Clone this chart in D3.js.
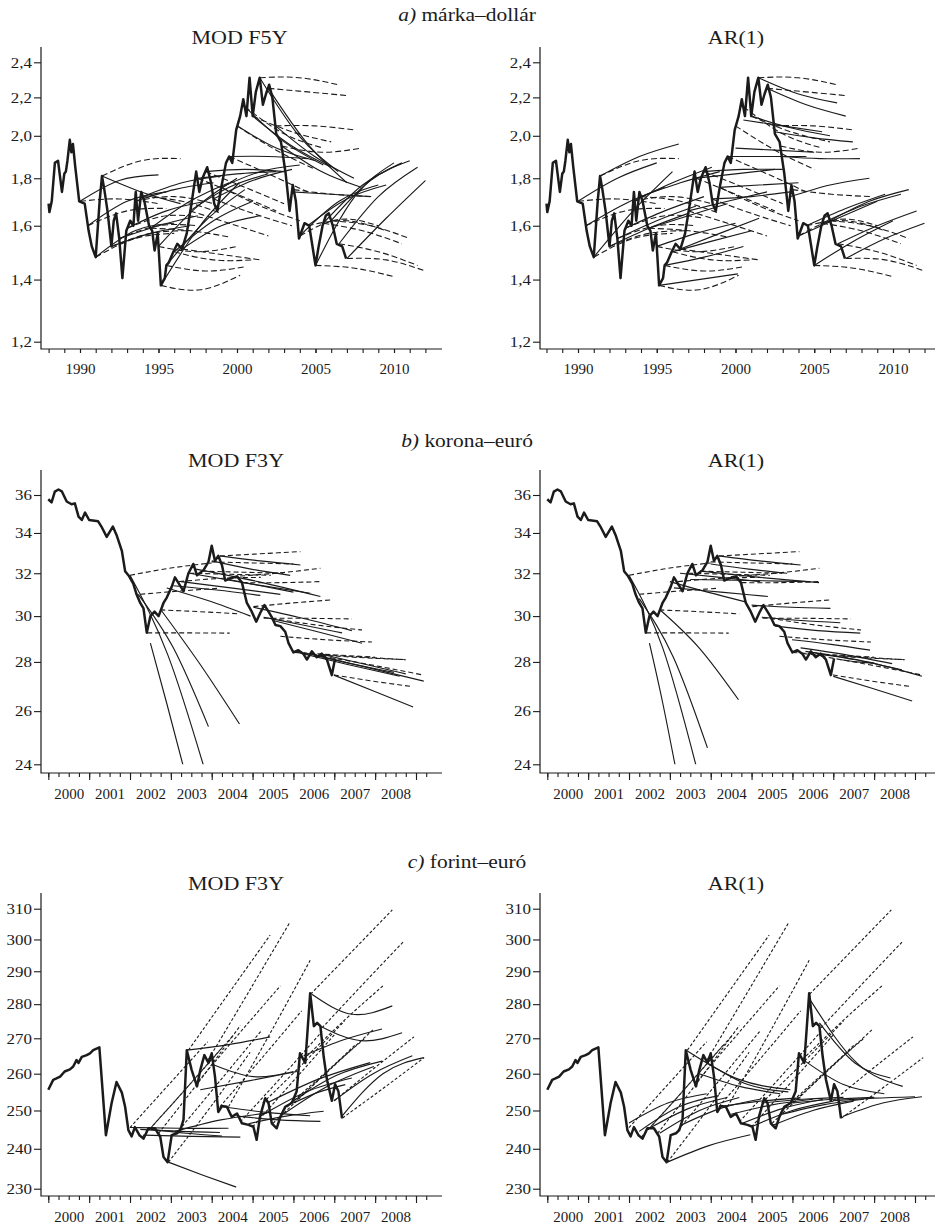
<!DOCTYPE html>
<html>
<head>
<meta charset="utf-8">
<script src="https://cdnjs.cloudflare.com/ajax/libs/d3/7.8.5/d3.min.js"></script>
<style>
  body { margin: 0; background: #fff; }
  svg { font-family: "Liberation Serif", "Times New Roman", serif; }
</style>
</head>
<body>
<svg id="chart" width="940" height="1226"></svg>
<script>
// Árfolyam-előrejelzések: tény (vastag), MOD / AR(1) (folytonos), határidős (szaggatott)
// forecast rows: [start year, end year, value at start, value at midpoint, value at end]

// ---- a) márka–dollár
const aYears = [1988.0, 1988.05, 1988.2, 1988.4, 1988.6, 1988.85, 1989.0, 1989.1, 1989.2, 1989.35, 1989.45, 1989.55, 1989.7, 1989.95,
  1990.3, 1990.55, 1990.75, 1991.0, 1991.25, 1991.4, 1991.55, 1991.75, 1992.0, 1992.15, 1992.3, 1992.5, 1992.7, 1992.95,
  1993.2, 1993.4, 1993.55, 1993.7, 1993.9, 1994.1, 1994.4, 1994.6, 1994.75, 1994.95, 1995.15, 1995.4, 1995.5, 1995.65, 1995.95,
  1996.2, 1996.5, 1996.8, 1997.1, 1997.4, 1997.6, 1997.8, 1998.1, 1998.35, 1998.55, 1998.75, 1999.0, 1999.3, 1999.5, 1999.7, 1999.95,
  2000.2, 2000.4, 2000.6, 2000.8, 2001.0, 2001.2, 2001.45, 2001.65, 2001.85, 2002.05, 2002.25, 2002.5, 2002.8, 2003.1, 2003.35,
  2003.55, 2003.75, 2003.95, 2004.3, 2004.6, 2005.0, 2005.2, 2005.45, 2005.65, 2005.85, 2006.1, 2006.35, 2006.7, 2006.95];
const aRate = [1.69, 1.655, 1.70, 1.87, 1.88, 1.74, 1.82, 1.83, 1.88, 1.98, 1.92, 1.96, 1.85, 1.70,
  1.69, 1.58, 1.52, 1.48, 1.70, 1.81, 1.75, 1.66, 1.52, 1.62, 1.65, 1.55, 1.405, 1.58,
  1.62, 1.60, 1.74, 1.62, 1.74, 1.70, 1.60, 1.58, 1.505, 1.57, 1.38, 1.405, 1.45, 1.46, 1.50,
  1.53, 1.51, 1.57, 1.69, 1.83, 1.74, 1.80, 1.85, 1.78, 1.69, 1.66, 1.76, 1.87, 1.90, 1.87, 2.03,
  2.10, 2.19, 2.10, 2.31, 2.10, 2.23, 2.31, 2.16, 2.22, 2.27, 2.20, 2.01, 1.97, 1.82, 1.66,
  1.77, 1.70, 1.55, 1.61, 1.60, 1.45, 1.52, 1.60, 1.64, 1.65, 1.60, 1.53, 1.52, 1.475];
const aForward = [
  [1990.0, 1995.0, 1.70, 1.71, 1.69], [1990.5, 1995.5, 1.60, 1.66, 1.67], [1991.0, 1996.0, 1.48, 1.55, 1.57],
  [1991.4, 1996.4, 1.81, 1.88, 1.89], [1992.0, 1997.0, 1.52, 1.57, 1.58], [1992.5, 1997.5, 1.55, 1.60, 1.60],
  [1993.0, 1998.0, 1.59, 1.64, 1.63], [1993.5, 1998.5, 1.70, 1.72, 1.69], [1994.0, 1999.0, 1.72, 1.70, 1.65],
  [1994.5, 1999.6, 1.59, 1.58, 1.555], [1995.0, 2000.0, 1.52, 1.50, 1.52], [1995.15, 2000.2, 1.38, 1.365, 1.415],
  [1995.5, 2000.5, 1.45, 1.43, 1.445], [1996.0, 2001.0, 1.50, 1.47, 1.47], [1996.5, 2001.5, 1.51, 1.49, 1.47],
  [1997.0, 2002.0, 1.66, 1.61, 1.56], [1997.5, 2002.5, 1.80, 1.73, 1.66], [1998.0, 2003.0, 1.83, 1.76, 1.69],
  [1998.5, 2003.5, 1.71, 1.65, 1.60], [1999.0, 2004.0, 1.76, 1.68, 1.62], [1999.5, 2004.5, 1.90, 1.82, 1.74],
  [2000.0, 2005.0, 2.05, 1.93, 1.84], [2000.5, 2005.5, 2.15, 2.01, 1.94], [2001.0, 2006.0, 2.10, 2.02, 1.97],
  [2001.45, 2006.45, 2.31, 2.31, 2.27], [2002.0, 2007.0, 2.25, 2.23, 2.21], [2002.45, 2007.4, 2.05, 2.05, 2.03],
  [2002.85, 2007.9, 1.95, 1.92, 1.94], [2003.6, 2008.6, 1.75, 1.73, 1.72], [2004.0, 2009.0, 1.56, 1.625, 1.60],
  [2004.5, 2009.5, 1.60, 1.62, 1.58], [2005.0, 2010.0, 1.45, 1.44, 1.41], [2005.5, 2010.5, 1.61, 1.58, 1.53],
  [2006.0, 2011.0, 1.62, 1.60, 1.55], [2006.5, 2011.5, 1.53, 1.50, 1.45], [2007.0, 2012.0, 1.475, 1.47, 1.43]];
const aModF5Y = [
  [1990.0, 1995.0, 1.70, 1.79, 1.815], [1990.5, 1995.5, 1.60, 1.70, 1.74], [1991.0, 1996.0, 1.48, 1.58, 1.61],
  [1991.4, 1996.4, 1.81, 1.74, 1.69], [1992.0, 1997.0, 1.52, 1.57, 1.60], [1992.5, 1997.5, 1.55, 1.60, 1.64],
  [1993.0, 1998.0, 1.59, 1.66, 1.70], [1993.5, 1998.5, 1.70, 1.75, 1.78], [1994.0, 1999.0, 1.72, 1.78, 1.81],
  [1994.5, 1999.5, 1.59, 1.70, 1.78], [1995.0, 2000.0, 1.52, 1.68, 1.80], [1995.15, 2000.15, 1.38, 1.60, 1.78],
  [1995.5, 2000.5, 1.45, 1.62, 1.75], [1996.0, 2001.0, 1.50, 1.62, 1.70], [1996.5, 2001.5, 1.51, 1.60, 1.64],
  [1997.0, 2002.0, 1.66, 1.76, 1.82], [1997.5, 2002.5, 1.80, 1.82, 1.83], [1998.0, 2003.0, 1.83, 1.84, 1.83],
  [1998.5, 2003.5, 1.71, 1.79, 1.84], [1999.0, 2004.0, 1.76, 1.83, 1.86], [1999.5, 2004.5, 1.90, 1.90, 1.89],
  [2000.0, 2005.0, 2.05, 1.94, 1.88], [2000.5, 2005.5, 2.15, 1.97, 1.86], [2001.0, 2006.0, 2.10, 1.95, 1.85],
  [2001.45, 2006.45, 2.31, 2.00, 1.83], [2002.0, 2007.0, 2.25, 1.96, 1.78], [2002.45, 2007.45, 2.05, 1.90, 1.80],
  [2002.85, 2007.9, 1.95, 1.83, 1.76], [2003.5, 2008.5, 1.74, 1.73, 1.72], [2004.0, 2009.0, 1.56, 1.70, 1.77],
  [2004.5, 2009.5, 1.60, 1.71, 1.77], [2005.0, 2010.0, 1.45, 1.72, 1.87], [2005.5, 2010.5, 1.61, 1.77, 1.87],
  [2006.0, 2011.0, 1.62, 1.79, 1.88], [2006.5, 2011.5, 1.53, 1.72, 1.85], [2007.0, 2012.0, 1.475, 1.63, 1.79]];
const aAR1 = [
  [1990.0, 1995.0, 1.70, 1.80, 1.87], [1990.5, 1995.5, 1.60, 1.69, 1.76], [1991.0, 1996.0, 1.48, 1.66, 1.83],
  [1991.4, 1996.4, 1.81, 1.90, 1.96], [1992.0, 1997.0, 1.52, 1.59, 1.65], [1992.5, 1997.5, 1.55, 1.62, 1.68],
  [1993.0, 1998.0, 1.59, 1.66, 1.72], [1993.5, 1998.5, 1.70, 1.78, 1.85], [1994.0, 1999.0, 1.72, 1.78, 1.83],
  [1994.5, 1999.5, 1.59, 1.64, 1.69], [1995.0, 2000.0, 1.52, 1.57, 1.61], [1995.15, 2000.15, 1.38, 1.40, 1.42],
  [1995.5, 2000.5, 1.45, 1.48, 1.52], [1996.0, 2001.0, 1.50, 1.54, 1.58], [1996.5, 2001.5, 1.51, 1.57, 1.63],
  [1997.0, 2002.0, 1.66, 1.70, 1.74], [1997.5, 2002.5, 1.80, 1.82, 1.84], [1998.0, 2003.0, 1.83, 1.84, 1.84],
  [1998.5, 2003.5, 1.71, 1.72, 1.74], [1999.0, 2004.0, 1.76, 1.77, 1.78], [1999.5, 2004.5, 1.90, 1.90, 1.90],
  [2000.0, 2005.0, 1.94, 1.93, 1.92], [2000.5, 2005.5, 2.08, 2.05, 2.02], [2001.0, 2006.0, 2.10, 2.04, 2.00],
  [2001.45, 2006.45, 2.31, 2.22, 2.17], [2002.0, 2007.0, 2.25, 2.16, 2.10], [2002.45, 2007.45, 2.02, 1.99, 1.97],
  [2002.85, 2007.9, 1.90, 1.89, 1.89], [2003.5, 2008.5, 1.72, 1.77, 1.80], [2004.0, 2009.0, 1.56, 1.63, 1.70],
  [2004.5, 2009.5, 1.60, 1.67, 1.73], [2005.0, 2010.0, 1.45, 1.54, 1.62], [2005.5, 2010.5, 1.61, 1.68, 1.73],
  [2006.0, 2011.0, 1.62, 1.70, 1.75], [2006.5, 2011.5, 1.53, 1.60, 1.66], [2007.0, 2012.0, 1.475, 1.55, 1.61]];
const aYTicks = [1.2, 1.4, 1.6, 1.8, 2.0, 2.2, 2.4];
const aXLabels = [1990, 1995, 2000, 2005, 2010];
const aXMinor = d3.range(1988, 2013);

// ---- b) korona–euró
const bYears = [2000.0, 2000.08, 2000.16, 2000.25, 2000.33, 2000.45, 2000.57, 2000.65, 2000.74, 2000.82, 2000.9, 2001.0,
  2001.22, 2001.3, 2001.43, 2001.58, 2001.67, 2001.8, 2001.88, 2001.98, 2002.08, 2002.16, 2002.25, 2002.33, 2002.41,
  2002.5, 2002.6, 2002.7, 2002.82, 2002.9, 2003.02, 2003.1, 2003.23, 2003.31, 2003.43, 2003.55, 2003.64, 2003.8, 2003.92,
  2004.0, 2004.08, 2004.16, 2004.25, 2004.33, 2004.45, 2004.62, 2004.74, 2004.86, 2004.98, 2005.09, 2005.19, 2005.29,
  2005.39, 2005.47, 2005.56, 2005.68, 2005.8, 2005.88, 2006.0, 2006.12, 2006.24, 2006.33, 2006.45, 2006.57, 2006.69,
  2006.82, 2006.94, 2007.02];
const bRate = [35.77, 35.6, 36.18, 36.3, 36.2, 35.65, 35.5, 35.55, 34.85, 34.67, 35.06, 34.67,
  34.6, 34.33, 33.8, 34.33, 33.9, 33.1, 32.1, 31.85, 31.5, 31.0, 30.6, 30.35, 29.26,
  30.0, 30.2, 30.0, 30.6, 30.85, 31.35, 31.8, 31.4, 31.15, 32.0, 32.45, 31.9, 32.15, 32.55,
  33.35, 32.6, 32.85, 32.4, 31.65, 31.75, 31.85, 31.55, 30.6, 30.2, 29.75, 30.15, 30.5,
  30.2, 29.95, 29.6, 29.55, 29.3, 28.8, 28.4, 28.5, 28.35, 28.1, 28.45, 28.2, 28.35,
  28.1, 27.45, 28.15];
const bForward = [
  [2002.0, 2004.0, 31.9, 32.25, 32.5], [2002.25, 2004.15, 31.0, 31.15, 31.28], [2002.42, 2004.44, 29.25, 29.25, 29.24],
  [2002.74, 2004.7, 30.28, 30.2, 30.1], [2003.2, 2005.2, 31.6, 31.75, 31.8], [2003.45, 2005.45, 32.0, 31.95, 31.9],
  [2003.75, 2005.75, 32.1, 32.05, 32.0], [2004.0, 2006.0, 32.55, 32.5, 32.45], [2004.2, 2006.17, 32.84, 32.95, 33.06],
  [2004.5, 2006.66, 31.84, 32.0, 32.24], [2004.75, 2006.7, 31.55, 31.55, 31.6], [2005.02, 2006.94, 30.43, 30.6, 30.74],
  [2005.27, 2007.43, 29.9, 29.9, 29.87], [2005.45, 2007.68, 29.9, 29.6, 29.38], [2005.68, 2007.92, 29.1, 28.95, 28.85],
  [2006.0, 2008.0, 28.4, 28.3, 28.2], [2006.25, 2008.7, 28.35, 28.2, 28.1], [2006.5, 2009.15, 28.3, 27.9, 27.46],
  [2006.75, 2008.75, 28.3, 28.2, 28.09], [2006.99, 2008.91, 27.46, 27.2, 26.98]];
const bModF3Y = [
  [2002.0, 2003.85, 31.9, 28.3, 23.7], [2002.2, 2003.92, 31.0, 28.6, 25.4], [2002.5, 2003.3, 28.8, 26.3, 23.95],
  [2002.75, 2004.68, 30.3, 27.9, 25.5], [2002.9, 2004.95, 31.3, 30.7, 30.0], [2003.06, 2005.19, 31.4, 31.2, 30.95],
  [2003.25, 2005.68, 31.6, 31.3, 31.0], [2003.45, 2006.41, 32.0, 31.5, 31.05], [2003.6, 2006.66, 32.2, 31.6, 30.9],
  [2004.0, 2005.92, 32.6, 32.2, 31.9], [2004.2, 2006.17, 32.85, 32.6, 32.4], [2004.4, 2006.0, 31.7, 31.4, 31.1],
  [2005.02, 2007.43, 30.4, 29.9, 29.35], [2005.27, 2007.19, 29.95, 29.6, 29.25], [2005.5, 2007.68, 29.8, 29.3, 28.8],
  [2006.0, 2008.6, 28.45, 27.9, 27.4], [2006.25, 2009.19, 28.4, 27.8, 27.2], [2006.5, 2008.46, 28.3, 27.9, 27.56],
  [2006.75, 2008.75, 28.3, 27.9, 27.5], [2006.99, 2008.93, 27.45, 26.8, 26.16]];
const bAR1 = [
  [2002.0, 2003.65, 31.9, 28.6, 23.9], [2002.25, 2003.92, 30.8, 28.2, 24.6], [2002.5, 2003.13, 28.8, 26.4, 23.95],
  [2002.75, 2004.68, 30.3, 28.6, 26.45], [2003.0, 2004.85, 31.6, 31.1, 30.65], [2003.1, 2005.4, 31.3, 31.1, 30.9],
  [2003.25, 2005.21, 32.0, 31.8, 31.6], [2003.5, 2006.44, 31.7, 31.65, 31.6], [2003.75, 2006.65, 32.1, 31.8, 31.55],
  [2004.0, 2005.87, 32.45, 32.2, 32.0], [2004.2, 2006.2, 32.85, 32.6, 32.4], [2005.0, 2006.93, 30.5, 30.4, 30.35],
  [2005.25, 2007.17, 29.95, 29.8, 29.7], [2005.58, 2007.66, 29.55, 29.35, 29.24], [2005.99, 2007.9, 28.95, 28.75, 28.5],
  [2006.2, 2008.44, 28.6, 28.3, 27.93], [2006.32, 2008.68, 28.45, 28.1, 27.67], [2006.52, 2009.17, 28.4, 28.0, 27.4],
  [2007.0, 2008.93, 27.4, 26.9, 26.4], [2007.15, 2008.0, 28.1, 28.0, 27.95]];
const bYTicks = [24, 26, 28, 30, 32, 34, 36];

// ---- c) forint–euró
const cYears = [2000.0, 2000.12, 2000.2, 2000.29, 2000.4, 2000.53, 2000.61, 2000.69, 2000.74, 2000.82, 2000.94, 2001.02,
  2001.1, 2001.25, 2001.41, 2001.55, 2001.67, 2001.8, 2001.88, 2001.96, 2002.04, 2002.12, 2002.23, 2002.33, 2002.45,
  2002.61, 2002.74, 2002.82, 2002.92, 2003.02, 2003.15, 2003.23, 2003.31, 2003.39, 2003.51, 2003.64, 2003.72, 2003.82,
  2003.92, 2004.0, 2004.08, 2004.16, 2004.25, 2004.37, 2004.49, 2004.62, 2004.74, 2004.9, 2005.02, 2005.1, 2005.18,
  2005.31, 2005.39, 2005.47, 2005.59, 2005.68, 2005.8, 2005.96, 2006.08, 2006.16, 2006.29, 2006.41, 2006.5, 2006.58,
  2006.66, 2006.74, 2006.82, 2006.94, 2007.02, 2007.1, 2007.19];
const cRate = [255.6, 258.3, 258.7, 259.2, 260.6, 261.2, 262.0, 263.8, 263.0, 264.7, 265.2, 265.7,
  266.6, 267.4, 243.5, 252.0, 257.7, 254.8, 251.0, 244.8, 243.2, 245.6, 243.5, 242.6, 245.3,
  245.3, 243.1, 237.9, 236.6, 243.5, 244.0, 244.8, 247.6, 266.6, 261.0, 256.5, 261.0, 265.2,
  263.0, 265.7, 259.2, 249.6, 251.2, 251.0, 248.3, 249.2, 246.6, 246.2, 245.7, 242.3, 248.3,
  253.3, 252.0, 246.6, 245.3, 248.3, 251.0, 252.0, 255.2, 265.7, 263.0, 283.3, 273.5, 274.5,
  273.5, 264.8, 258.4, 252.6, 257.1, 255.2, 247.9];
const cForward = [
  [2002.0, 2003.9, 245.5, 257, 269], [2002.3, 2004.3, 243, 255, 268], [2002.5, 2004.5, 245.3, 257.5, 270.5],
  [2002.7, 2004.7, 244, 258, 273.7], [2002.94, 2004.94, 236.6, 250.5, 266], [2003.2, 2005.2, 244.8, 258, 272],
  [2003.43, 2005.43, 266.6, 283.5, 301.4], [2003.68, 2005.68, 258, 271.5, 285.5], [2003.92, 2005.92, 264, 284, 305.7],
  [2004.2, 2006.2, 251, 264, 278], [2004.41, 2006.41, 251, 271, 293.4], [2004.7, 2006.7, 247, 259, 272],
  [2005.0, 2007.0, 245.7, 258, 271], [2005.25, 2007.25, 252, 263, 275], [2005.5, 2007.5, 246.6, 257, 268],
  [2005.75, 2007.75, 250, 260, 270], [2006.0, 2007.95, 252, 262, 272.5], [2006.25, 2008.2, 264, 275, 285.6],
  [2006.42, 2008.42, 283, 296, 309.6], [2006.7, 2008.7, 273, 286, 299.4], [2007.0, 2008.95, 252.6, 261.5, 270.4],
  [2007.2, 2009.2, 248, 256, 264.5]];
const cModF3Y = [
  [2002.0, 2004.41, 245.5, 245.3, 245.3], [2002.25, 2004.2, 245.0, 244.5, 244.2], [2002.33, 2004.7, 243.5, 243.2, 243.0],
  [2002.5, 2004.25, 245.0, 244.0, 243.3], [2002.94, 2004.6, 236.6, 233.4, 230.4], [2003.1, 2005.35, 244.5, 247.5, 249.3],
  [2003.39, 2005.43, 266.6, 268.2, 270.4], [2003.72, 2006.09, 255.6, 258, 260.6], [2004.04, 2006.0, 262.5, 259.2, 260.6],
  [2004.25, 2006.41, 251, 249.5, 248.6], [2004.62, 2006.66, 248.5, 247.5, 247.1], [2004.9, 2006.74, 246.5, 248.5, 249.8],
  [2005.19, 2007.43, 248.5, 255, 258.8], [2005.35, 2007.88, 252, 258.5, 263.1], [2005.68, 2007.97, 248.5, 256.5, 262],
  [2005.92, 2008.17, 252, 259.5, 263.5], [2006.0, 2007.27, 252, 255, 257], [2006.25, 2008.17, 265, 269.5, 272.7],
  [2006.45, 2008.42, 283, 277, 279.5], [2006.66, 2008.66, 273.5, 269.3, 271.6], [2006.99, 2008.91, 252.6, 260, 265],
  [2007.19, 2009.19, 248.5, 260, 264.5]];
const cAR1 = [
  [2002.0, 2003.9, 246.7, 252, 254.5], [2002.25, 2004.2, 244.5, 251, 254], [2002.5, 2004.4, 245.3, 250.5, 253.5],
  [2002.75, 2004.7, 244, 250, 253.5], [2002.94, 2004.97, 236.6, 240.8, 243.6], [2003.25, 2005.2, 246, 250.5, 253],
  [2003.4, 2005.95, 266.6, 258.5, 255.6], [2003.72, 2005.7, 260, 256.5, 254.5], [2003.92, 2005.9, 263, 257, 255],
  [2004.2, 2006.2, 251, 252.5, 253.4], [2004.5, 2006.5, 249, 251.5, 253], [2004.75, 2006.75, 246.5, 250.5, 253],
  [2005.0, 2007.0, 245.7, 250, 252.5], [2005.25, 2007.25, 252, 253, 253.5], [2005.5, 2007.5, 246, 250, 252.5],
  [2005.75, 2007.75, 249, 251.5, 253], [2006.0, 2008.0, 252, 253, 253.5], [2006.25, 2008.25, 264, 257, 254.5],
  [2006.45, 2008.7, 281, 263, 256.5], [2006.66, 2008.4, 274.5, 263, 258.8], [2007.0, 2009.0, 252.6, 253.3, 253.7],
  [2007.25, 2009.17, 248.5, 252, 253.7]];
const cYTicks = [230, 240, 250, 260, 270, 280, 290, 300, 310];

const bcXLabels = d3.range(2000, 2009);
const bcXMajor = d3.range(2000, 2010);
const bcXMinor = d3.range(2000, 2009.3, 0.25);

const ink = "#1b1b1b";
const serif = '"Liberation Serif", "Times New Roman", serif';
const stretch = "scale(1.13,1)";   // the printed figure is a little wider than tall
const svg = d3.select("#chart");
const defs = svg.append("defs");
let clipCount = 0;

function drawPanel(p) {
  const x = d3.scaleLinear().domain(p.xAnchor).range(p.xPix);
  const y = d3.scaleLog().domain(p.yAnchor).range(p.yPix);
  const g = svg.append("g");

  const clipId = "clip" + (clipCount++);
  defs.append("clipPath").attr("id", clipId).append("rect")
    .attr("x", p.left + 1).attr("y", p.top)
    .attr("width", p.right - p.left).attr("height", y(p.yTicks[0]) - p.top);

  // y axis
  const ya = g.append("g").attr("transform", `translate(${p.left},0)`)
    .call(d3.axisLeft(y).tickValues(p.yTicks).tickFormat(p.yFormat).tickSize(7).tickPadding(1).tickSizeOuter(0));
  ya.select(".domain").remove();
  ya.selectAll("text").attr("transform", stretch);

  // x axis ticks
  const xb = g.append("g").attr("transform", `translate(0,${p.bottom})`);
  xb.append("g").call(d3.axisBottom(x).tickValues(p.xMinor).tickSize(4).tickFormat("").tickSizeOuter(0));
  xb.append("g").call(d3.axisBottom(x).tickValues(p.xMajor).tickSize(p.majorLen).tickFormat("").tickSizeOuter(0));
  xb.append("g").call(d3.axisBottom(x).tickValues(p.xLabels.map(v => v + p.labelShift))
    .tickSize(0).tickPadding(p.labelPad).tickFormat(v => Math.floor(v)).tickSizeOuter(0));
  xb.selectAll(".domain").remove();

  g.selectAll("g").attr("font-family", null).attr("font-size", null);
  g.selectAll(".tick line").attr("stroke", ink).attr("stroke-width", 1.1);
  g.selectAll(".tick text").attr("fill", ink).attr("font-size", 15).attr("font-family", serif);

  // axis frame
  g.append("path")
    .attr("d", `M${p.left},${p.top}V${p.bottom}H${p.right}`)
    .attr("fill", "none").attr("stroke", ink).attr("stroke-width", 1.2);

  const plot = g.append("g").attr("clip-path", `url(#${clipId})`);
  const fc = d3.line().x(d => x(d[0])).y(d => y(d[1])).curve(d3.curveNatural);
  const pts = f => [[f[0], f[2]], [(f[0] + f[1]) / 2, f[3]], [f[1], f[4]]];

  plot.selectAll("path.fwd").data(p.dashed).join("path")
    .attr("class", "fwd").attr("d", f => fc(pts(f)))
    .attr("fill", "none").attr("stroke", ink).attr("stroke-width", 1.1)
    .attr("stroke-dasharray", p.dash);

  plot.selectAll("path.mdl").data(p.solid).join("path")
    .attr("class", "mdl").attr("d", f => fc(pts(f)))
    .attr("fill", "none").attr("stroke", ink).attr("stroke-width", 1.15);

  const act = d3.line().x((d, i) => x(p.years[i])).y(d => y(d));
  plot.append("path").datum(p.rate).attr("d", act)
    .attr("fill", "none").attr("stroke", ink).attr("stroke-width", 2.5)
    .attr("stroke-linejoin", "round");

  svg.append("text").attr("transform", `translate(${p.titleX},${p.top - 3}) ${stretch}`)
    .attr("text-anchor", "middle").attr("font-family", serif)
    .attr("font-size", 19.5).attr("fill", ink).text(p.title);
}

function rowTitle(yBase, letter, label) {
  const t = svg.append("text").attr("transform", `translate(467,${yBase}) ${stretch}`)
    .attr("text-anchor", "middle").attr("font-family", serif)
    .attr("font-size", 19).attr("fill", ink);
  t.append("tspan").attr("font-style", "italic").text(letter);
  t.append("tspan").text(" " + label);
}

const commaFmt = v => v.toFixed(1).replace(".", ",");

// row a
rowTitle(20.5, "a)", "márka–dollár");
const aCommon = { top: 47, bottom: 349, yAnchor: [1.2, 2.4], yPix: [341.7, 62.3], yTicks: aYTicks, yFormat: commaFmt,
  xLabels: aXLabels, xMajor: aXLabels, xMinor: aXMinor, labelShift: 0, labelPad: 14, majorLen: 4,
  years: aYears, rate: aRate, dashed: aForward, dash: "6,3" };
drawPanel({ ...aCommon, left: 41, right: 442, xAnchor: [1990, 2010], xPix: [80, 394], solid: aModF5Y, title: "MOD F5Y", titleX: 239.5 });
drawPanel({ ...aCommon, left: 540, right: 935, xAnchor: [1990, 2010], xPix: [578, 893], solid: aAR1, title: "AR(1)", titleX: 736 });

// row b
rowTitle(447, "b)", "korona–euró");
const bCommon = { top: 470, bottom: 773, yAnchor: [24, 36], yPix: [764.3, 495], yTicks: bYTicks, yFormat: d3.format("d"),
  xLabels: bcXLabels, xMajor: bcXMajor, xMinor: bcXMinor, labelShift: 0.5, labelPad: 15, majorLen: 7,
  years: bYears, rate: bRate, dashed: bForward, dash: "5,3" };
drawPanel({ ...bCommon, left: 41, right: 442, xAnchor: [2000, 2009], xPix: [48.3, 416], solid: bModF3Y, title: "MOD F3Y", titleX: 236 });
drawPanel({ ...bCommon, left: 540, right: 935, xAnchor: [2000, 2009], xPix: [547.3, 915], solid: bAR1, title: "AR(1)", titleX: 736 });

// row c
rowTitle(868, "c)", "forint–euró");
const cCommon = { top: 893, bottom: 1196, yAnchor: [230, 310], yPix: [1188.7, 908.7], yTicks: cYTicks, yFormat: d3.format("d"),
  xLabels: bcXLabels, xMajor: bcXMajor, xMinor: bcXMinor, labelShift: 0.5, labelPad: 15, majorLen: 7,
  years: cYears, rate: cRate, dashed: cForward, dash: "3,2" };
drawPanel({ ...cCommon, left: 41, right: 442, xAnchor: [2000, 2009], xPix: [48.3, 416], solid: cModF3Y, title: "MOD F3Y", titleX: 236 });
drawPanel({ ...cCommon, left: 540, right: 935, xAnchor: [2000, 2009], xPix: [547.3, 915], solid: cAR1, title: "AR(1)", titleX: 736 });
</script>
</body>
</html>
